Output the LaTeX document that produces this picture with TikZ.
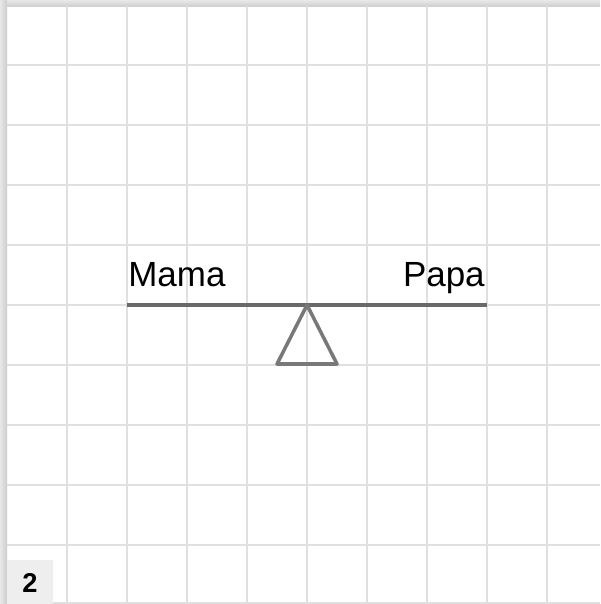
\documentclass[tikz,border=0pt]{standalone}
\usepackage{fontspec}
\setmainfont{Liberation Sans}
\usetikzlibrary{positioning}
\definecolor{gridgray}{RGB}{224,224,224}
\definecolor{beamgray}{RGB}{105,105,105}
\definecolor{tabgray}{RGB}{238,238,238}

\tikzset{
  gridline/.style={gridgray,line width=1.2pt},
  beam/.style={beamgray,line width=2pt},
  name label/.style={font=\fontsize{19.9}{24}\selectfont,inner sep=0pt},
}

\begin{document}
\begin{tikzpicture}[x=0.02cm,y=-0.02cm]
        \useasboundingbox (0,0) rectangle (600,604);
        \fill[white] (0,0) rectangle (600,604);
        % page shadow
        \shade[left color=black!9,right color=black!20] (0,0) rectangle (7,604);
        \shade[top color=black!9,bottom color=black!20] (7,0) rectangle (600,7);
        \begin{scope}
          \clip (7,7) rectangle (600,604);
          \foreach \gx in {67,127,...,547} \draw[gridline] (\gx,0) -- (\gx,604);
          \foreach \gy in {65,125,185,245,305,365,425,485,545,603} \draw[gridline] (7,\gy) -- (600,\gy);
        \end{scope}
        % seesaw
        \coordinate (beamL) at (127,305);
        \coordinate (beamR) at (487,305);
        \coordinate (pivot) at (307,305);
        \coordinate (footL) at (277,364);
        \coordinate (footR) at (337,364);
        \draw[beam] (beamL) -- (beamR);
        \draw[beam,beamgray!90,line join=round] (pivot) -- (footL) -- (footR) -- cycle;
        \node[name label,anchor=base west] (mama) at (128,286) {Mama};
        \node[name label,anchor=base east] (papa) at (485,286) {Papa};
        % page number tab
        \fill[tabgray] (7,560) rectangle (53,604);
        \node[font=\fontsize{15.5}{18}\selectfont\bfseries,inner sep=0pt] (pagenum) at (30,582.5) {2};
      \end{tikzpicture}
\end{document}
